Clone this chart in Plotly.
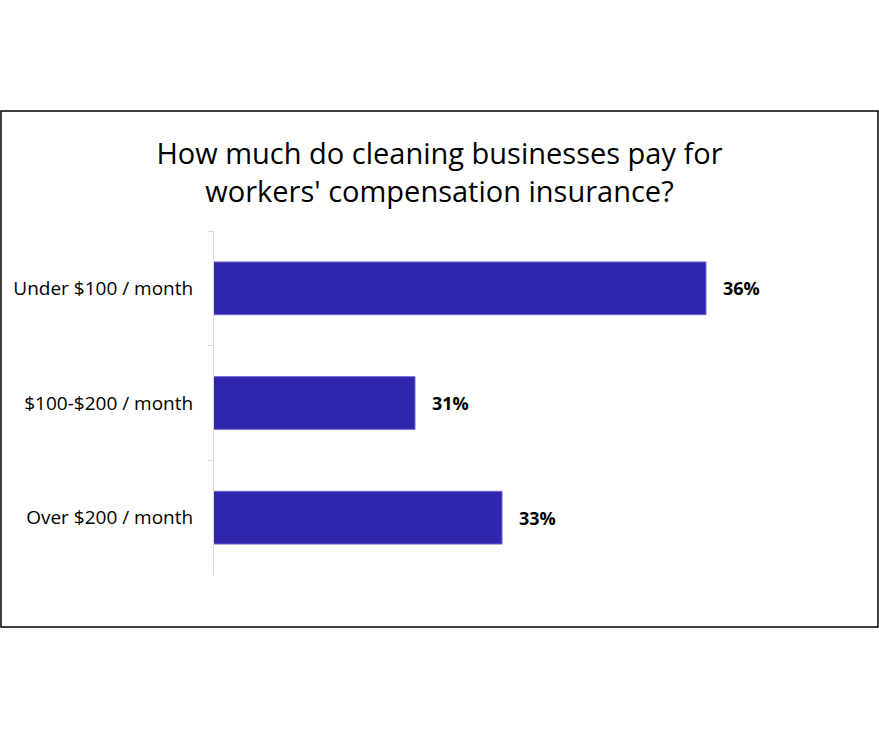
import plotly.graph_objects as go

# categories top to bottom, bar values and their printed labels
categories = ["Under $100 / month", "$100-$200 / month", "Over $200 / month"]
values = [36.0, 31.15, 32.6]
value_labels = ["36%", "31%", "33%"]

BAR_COLOR = "#3025ad"
FONT = "'Open Sans', sans-serif"

fig = go.Figure()
fig.add_trace(
    go.Bar(
        x=values,
        y=categories,
        orientation="h",
        marker=dict(color=BAR_COLOR, line=dict(color="#6f69d0", width=1)),
        hoverinfo="skip",
    )
)

# data labels to the right of each bar
for cat, val, lab in zip(categories, values, value_labels):
    fig.add_annotation(
        x=val, y=cat, text=f"<b>{lab}</b>", showarrow=False,
        xanchor="left", xshift=15,
        font=dict(size=18, color="black", family=FONT),
    )

# outer frame
fig.add_shape(
    type="rect", xref="paper", yref="paper",
    x0=-0.3515, x1=1.0957, y0=-0.151, y1=1.349,
    line=dict(color="black", width=1.5), fillcolor="rgba(0,0,0,0)", layer="below",
)

fig.update_layout(
    width=879, height=739,
    margin=dict(l=214, r=59, t=231, b=164),
    plot_bgcolor="white", paper_bgcolor="white",
    showlegend=False,
    bargap=0.54,
    font=dict(family=FONT, size=19, color="black"),
    title=dict(
        text="How much do cleaning businesses pay for<br>workers' compensation insurance?",
        x=0.5, xref="container", xanchor="center",
        y=0.778, yref="container", yanchor="middle",
        font=dict(size=29, color="black", family=FONT),
    ),
)
fig.update_xaxes(range=[27.8, 37.9], visible=False)
fig.update_yaxes(
    autorange="reversed",
    showline=True, linecolor="#d9d9d9", linewidth=1,
    ticks="outside", tickson="boundaries", ticklen=5, tickcolor="#d9d9d9",
    ticklabelstandoff=16, showgrid=False,
)

# drop the default page margin so the figure sits at the window corner
fig.write_html(
    "out.html",
    config={"displayModeBar": False},
    post_script="document.body.style.margin='0';",
)
